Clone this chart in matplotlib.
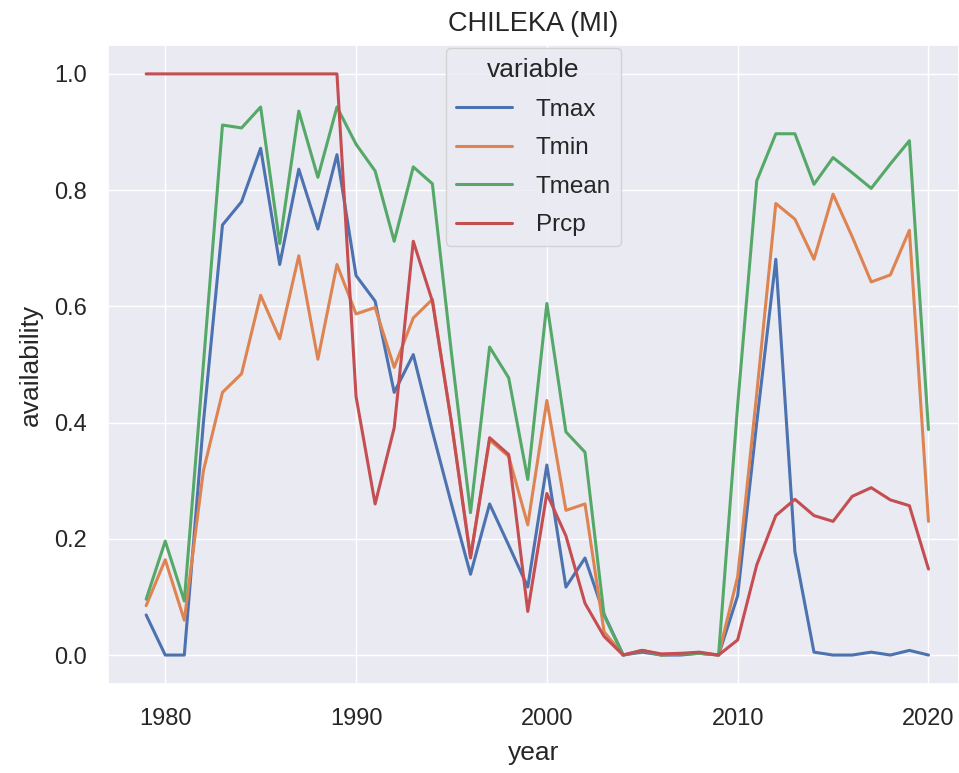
import matplotlib
matplotlib.use("Agg")
import matplotlib.pyplot as plt
import seaborn as sns

years = list(range(1979, 2021))

tmax = [0.069, 0.0, 0.0, 0.40, 0.74, 0.78, 0.872, 0.672, 0.836, 0.733, 0.861,
        0.653, 0.609, 0.452, 0.517, 0.385, 0.26, 0.139, 0.26, 0.189, 0.117,
        0.327, 0.117, 0.167, 0.07, 0.0, 0.005, 0.0, 0.0, 0.003, 0.0,
        0.102, 0.40, 0.681, 0.178, 0.005, 0.0, 0.0, 0.005, 0.0, 0.008, 0.0]
tmin = [0.085, 0.164, 0.06, 0.317, 0.452, 0.484, 0.619, 0.544, 0.687, 0.509, 0.672,
        0.587, 0.598, 0.495, 0.58, 0.612, 0.40, 0.17, 0.37, 0.342, 0.224,
        0.438, 0.249, 0.26, 0.04, 0.0, 0.008, 0.0, 0.002, 0.003, 0.0,
        0.135, 0.45, 0.777, 0.75, 0.681, 0.793, 0.72, 0.642, 0.654, 0.731, 0.23]
tmean = [0.096, 0.196, 0.093, 0.50, 0.912, 0.907, 0.943, 0.708, 0.936, 0.822, 0.943,
         0.879, 0.833, 0.712, 0.84, 0.811, 0.52, 0.245, 0.53, 0.477, 0.302,
         0.605, 0.384, 0.349, 0.068, 0.0, 0.008, 0.0, 0.002, 0.003, 0.0,
         0.43, 0.816, 0.897, 0.897, 0.81, 0.856, 0.83, 0.803, 0.845, 0.885, 0.388]
prcp = [1.0, 1.0, 1.0, 1.0, 1.0, 1.0, 1.0, 1.0, 1.0, 1.0, 1.0,
        0.445, 0.26, 0.391, 0.712, 0.609, 0.40, 0.167, 0.374, 0.345, 0.075,
        0.278, 0.205, 0.089, 0.032, 0.0, 0.008, 0.002, 0.003, 0.005, 0.0,
        0.026, 0.155, 0.24, 0.268, 0.24, 0.23, 0.273, 0.288, 0.267, 0.257, 0.148]

series = {"Tmax": tmax, "Tmin": tmin, "Tmean": tmean, "Prcp": prcp}

sns.set_theme(style="darkgrid")
plt.rcParams["font.family"] = ["Liberation Sans", "DejaVu Sans"]
colors = sns.color_palette()

fig, ax = plt.subplots(figsize=(9.59, 7.73), dpi=100)
for i, (name, vals) in enumerate(series.items()):
    ax.plot(years, vals, color=colors[i], linewidth=2.2, label=name)

ax.set_title("CHILEKA (MI)", fontsize=19.5, color="#262626", pad=10)
ax.set_xlabel("year", fontsize=19, labelpad=8)
ax.set_ylabel("availability", fontsize=19, labelpad=8)
ax.tick_params(labelsize=17)
ax.tick_params(axis="x", pad=11)
ax.tick_params(axis="y", pad=9)
ax.set_xticks([1980, 1990, 2000, 2010, 2020])
ax.set_xlim(1977.0, 2021.6)
ax.legend(title="variable", loc="upper center", fontsize=17.5, title_fontsize=19,
          handlelength=2.3, handletextpad=1.0, labelspacing=0.68,
          borderaxespad=0.15)

fig.subplots_adjust(left=0.1126, right=1.0, top=0.942, bottom=0.115)
fig.savefig("out.png")
